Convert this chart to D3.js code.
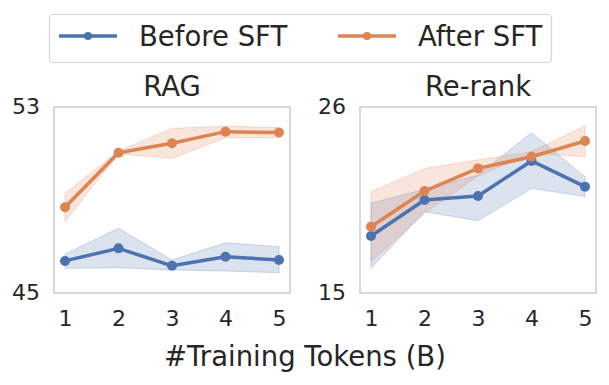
<!DOCTYPE html>
<html><head><meta charset="utf-8">
<script src="https://cdn.jsdelivr.net/npm/d3@7"></script>
<style>body{margin:0;background:#fff}svg{display:block}text{font-family:"DejaVu Sans",sans-serif;fill:#262626}</style>
</head><body><svg id="c" width="609" height="385"></svg>
<script>
const tokens = [1, 2, 3, 4, 5];
const seriesNames = ["Before SFT", "After SFT"];
const colors = ["#4c72b0", "#dd8452"];
const panelTitles = ["RAG", "Re-rank"];
const yTicks = [[45, 53], [15, 26]];

// RAG
const ragBefore      = [46.38, 46.92, 46.17, 46.56, 46.42];
const ragBeforeLow   = [46.06, 46.09, 45.99, 45.95, 45.87];
const ragBeforeHigh  = [46.68, 47.78, 46.42, 47.16, 46.99];
const ragAfter       = [48.69, 51.03, 51.44, 51.94, 51.90];
const ragAfterLow    = [48.07, 50.98, 50.79, 51.68, 51.68];
const ragAfterHigh   = [49.29, 51.11, 52.08, 52.18, 52.11];
// Re-rank
const rrBefore       = [18.37, 20.50, 20.74, 22.81, 21.29];
const rrBeforeLow    = [16.46, 19.81, 19.28, 21.19, 20.70];
const rrBeforeHigh   = [20.31, 21.13, 21.98, 24.48, 21.88];
const rrAfter        = [18.92, 21.03, 22.37, 23.06, 23.99];
const rrAfterLow     = [16.85, 19.71, 21.92, 23.26, 23.06];
const rrAfterHigh    = [20.99, 22.37, 22.87, 23.36, 24.89];

const panels = [
  {title: panelTitles[0], ticks: yTicks[0], left: 54, series: [
    {mean: ragBefore, lo: ragBeforeLow, hi: ragBeforeHigh},
    {mean: ragAfter, lo: ragAfterLow, hi: ragAfterHigh}]},
  {title: panelTitles[1], ticks: yTicks[1], left: 360, series: [
    {mean: rrBefore, lo: rrBeforeLow, hi: rrBeforeHigh},
    {mean: rrAfter, lo: rrAfterLow, hi: rrAfterHigh}]}
];

const svg = d3.select("#c");
const PW = 236, PTOP = 107, PBOT = 293;

panels.forEach(p => {
  const x = d3.scaleLinear().domain([1, 5]).range([p.left + 11, p.left + PW - 11]);
  const y = d3.scaleLinear().domain(p.ticks).range([PBOT, PTOP]);
  const g = svg.append("g");
  p.series.forEach((s, i) => {
    const area = d3.area().x((d, j) => x(tokens[j])).y0((d, j) => y(s.lo[j])).y1((d, j) => y(s.hi[j]));
    g.append("path").datum(s.mean).attr("d", area)
      .attr("fill", colors[i]).attr("fill-opacity", 0.2)
      .attr("stroke", colors[i]).attr("stroke-opacity", 0.25).attr("stroke-width", 1);
  });
  p.series.forEach((s, i) => {
    const line = d3.line().x((d, j) => x(tokens[j])).y(d => y(d));
    g.append("path").datum(s.mean).attr("d", line).attr("fill", "none")
      .attr("stroke", colors[i]).attr("stroke-width", 3.5).attr("stroke-linejoin", "round").attr("stroke-linecap", "round");
    g.selectAll(null).data(s.mean).enter().append("circle")
      .attr("cx", (d, j) => x(tokens[j])).attr("cy", d => y(d)).attr("r", 5).attr("fill", colors[i]);
  });
  g.append("rect").attr("x", p.left).attr("y", PTOP).attr("width", PW).attr("height", PBOT - PTOP)
    .attr("fill", "none").attr("stroke", "#cccccc").attr("stroke-width", 1.5);
  const xa = d3.axisBottom(x).tickValues(tokens).tickSize(0).tickPadding(0).tickFormat(d3.format("d"));
  const xg = svg.append("g").attr("transform", `translate(0,${PBOT})`).call(xa);
  xg.select(".domain").remove();
  xg.selectAll("text").attr("dy", null).attr("y", 27).attr("dominant-baseline", "middle")
    .style("font-size", "22px").style("fill", "#262626").style("font-family", "DejaVu Sans");
  const ya = d3.axisLeft(y).tickValues(p.ticks).tickSize(0).tickPadding(0).tickFormat(d3.format("d"));
  const yg = svg.append("g").attr("transform", `translate(${p.left - 14},0)`).call(ya);
  yg.select(".domain").remove();
  yg.selectAll("text").attr("dy", null).attr("x", 0).attr("dominant-baseline", "middle")
    .style("font-size", "22px").style("fill", "#262626").style("font-family", "DejaVu Sans");
  svg.append("text").attr("x", p.left + PW / 2).attr("y", 96).attr("text-anchor", "middle")
    .style("font-size", "27.5px").text(p.title);
});

svg.append("text").attr("x", 305).attr("y", 366).attr("text-anchor", "middle")
  .style("font-size", "27.5px").text("#Training Tokens (B)");

const lg = svg.append("g");
lg.append("rect").attr("x", 49.5).attr("y", 14.5).attr("width", 502).attr("height", 48).attr("rx", 4)
  .attr("fill", "#fff").attr("stroke", "#d6d6d6").attr("stroke-width", 1.2);
const legX = [59, 338];
seriesNames.forEach((n, i) => {
  lg.append("line").attr("x1", legX[i]).attr("x2", legX[i] + 58).attr("y1", 36).attr("y2", 36)
    .attr("stroke", colors[i]).attr("stroke-width", 3.5);
  lg.append("circle").attr("cx", legX[i] + 29).attr("cy", 36).attr("r", 4).attr("fill", colors[i]);
  lg.append("text").attr("x", legX[i] + 80).attr("y", 46).style("font-size", "27.5px").text(n);
});
</script></body></html>
